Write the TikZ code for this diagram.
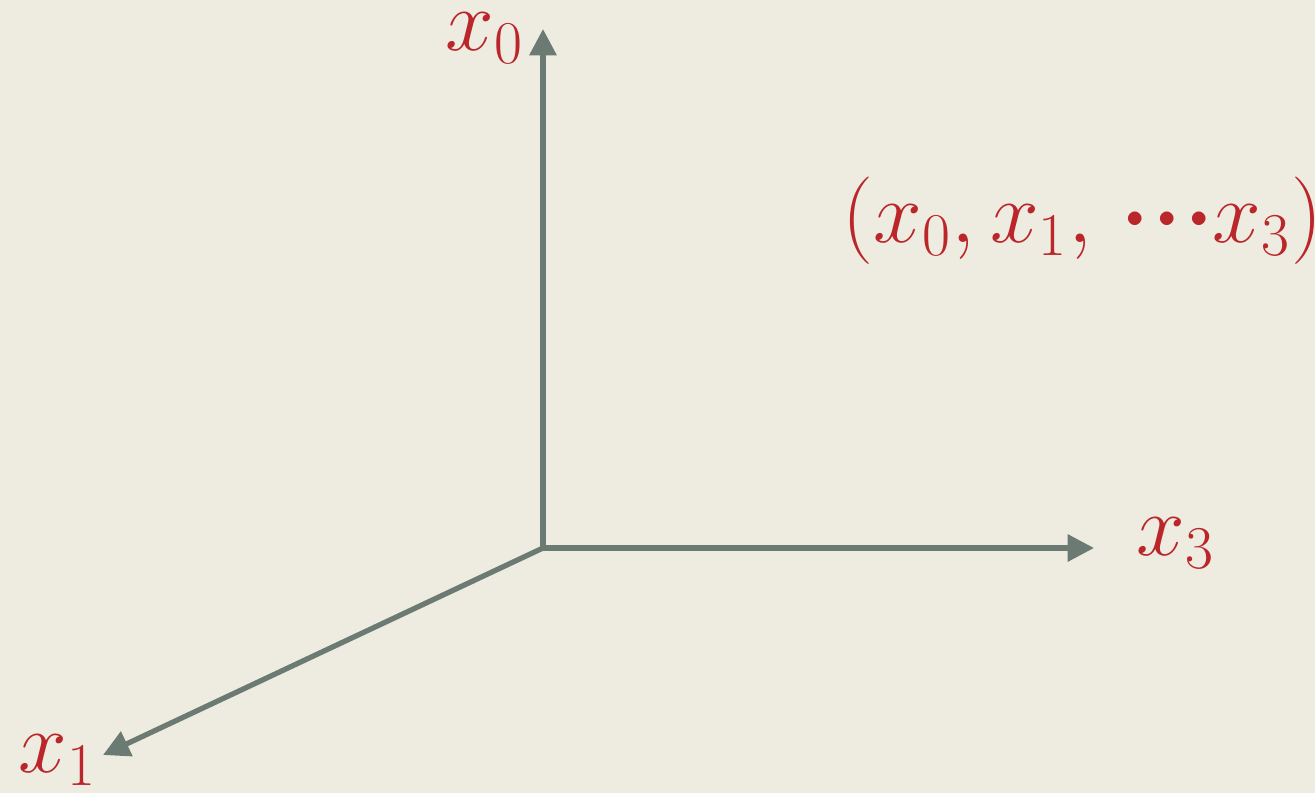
\documentclass[tikz,border=0pt]{standalone}
\usetikzlibrary{arrows.meta}
\definecolor{bg}{RGB}{238,236,224}
\definecolor{axis}{RGB}{108,122,116}
\definecolor{lab}{RGB}{186,38,42}
\tikzset{
  ax/.style={draw=axis, line width=1.5pt, -{Triangle[length=7.5pt,width=7.5pt]}},
  lbl/.style={text=lab, font=\fontsize{26}{26}\selectfont, inner sep=0pt, anchor=base west}
}
\newcommand\bigdot{\mathord{\raisebox{0.16em}{\scalebox{0.4}{$\bullet$}}}}
\begin{document}
\begin{tikzpicture}[x=1cm,y=1cm]
\fill[bg] (0,0) rectangle (13.15,-7.93);
\useasboundingbox (0,0) rectangle (13.15,-7.93);
\coordinate (o) at (5.43,-5.48);
\coordinate (t0) at (5.43,-0.29);
\coordinate (t3) at (10.94,-5.48);
\coordinate (t1) at (1.03,-7.55);
\draw[ax] (o) -- (t0);
\draw[ax] (o) -- (t3);
\draw[ax] (o) -- (t1);
\node[lbl] (l0) at (4.45,-0.50) {$x_0$};
\node[lbl] (l3) at (11.36,-5.55) {$x_3$};
\node[lbl] (l1) at (0.18,-7.72) {$x_1$};
\node[lbl] (tp) at (8.42,-2.42) {$(x_0,x_1,\mkern4mu\bigdot\mkern3mu\bigdot\mkern3mu\bigdot\mkern1mu x_3)$};
\end{tikzpicture}
\end{document}
